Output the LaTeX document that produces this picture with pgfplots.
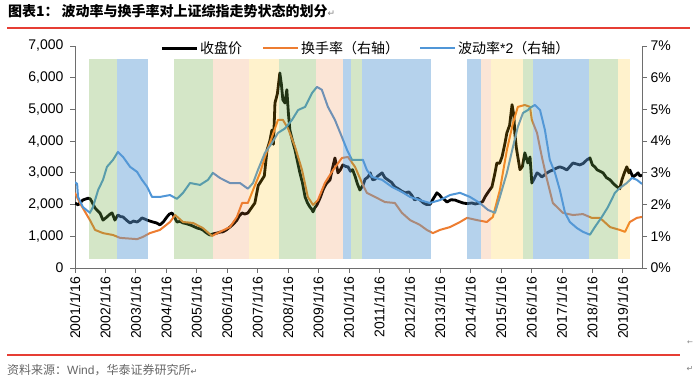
\documentclass[border=0pt]{standalone}
\usepackage{fontspec}
\setmainfont{Liberation Sans}
\newfontfamily\cjk{Noto Sans CJK SC}
\newfontfamily\dejavu{DejaVu Sans}
\usepackage{pgfplots}
\pgfplotsset{compat=1.18}
\definecolor{cBlack}{RGB}{0,0,0}
\definecolor{cOrange}{RGB}{237,125,49}
\definecolor{cBlue}{RGB}{80,150,215}
\definecolor{bGreen}{RGB}{112,173,71}
\definecolor{bBlue}{RGB}{91,155,213}
\definecolor{bPink}{RGB}{237,125,49}
\definecolor{bYellow}{RGB}{255,192,0}
\definecolor{redline}{RGB}{230,62,52}
\definecolor{axgray}{RGB}{110,110,110}
\begin{document}
\begin{tikzpicture}
\pgfplotsset{
  common/.style={
    at={(75pt,111pt)}, anchor=south west,
    width=567pt, height=222pt, scale only axis,
    xmin=0, xmax=18.63,
    tick align=outside, major tick length=5pt,
    tick style={color=axgray, line width=0.8pt},
    axis line style={-, color=axgray, line width=0.8pt},
    /pgf/number format/assume math mode=true,
    tick label style={font=\fontsize{14}{16}\selectfont},
    every axis plot/.append style={line join=round},
  }
}
\begin{axis}[common,
  ymin=0, ymax=7000,
  axis x line*=bottom, axis y line*=left,
  xtick={0,1,...,18},
  xticklabels={2001/1/16,2002/1/16,2003/1/16,2004/1/16,2005/1/16,2006/1/16,2007/1/16,2008/1/16,2009/1/16,2010/1/16,2011/1/16,2012/1/16,2013/1/16,2014/1/16,2015/1/16,2016/1/16,2017/1/16,2018/1/16,2019/1/16},
  x tick label style={rotate=90, anchor=east},
  ytick={0,1000,...,7000},
  y tick label style={xshift=-3pt},
  /pgf/number format/1000 sep={,},
]
\addplot[cBlack, line width=2.8pt] coordinates {
(0,2050) (0.10,1990) (0.26,2145) (0.43,2200) (0.50,2180) (0.56,2080) (0.66,1890) (0.75,1800)
(0.82,1735) (0.92,1510) (1.05,1610) (1.15,1700) (1.22,1735) (1.31,1510) (1.41,1670) (1.50,1620)
(1.58,1610) (1.70,1500) (1.81,1420) (1.92,1480) (2.04,1450) (2.12,1500) (2.20,1580) (2.30,1540)
(2.37,1510) (2.46,1480) (2.56,1450) (2.68,1420) (2.79,1360) (2.90,1450) (3.02,1610) (3.10,1700)
(3.19,1735) (3.27,1600) (3.35,1450) (3.45,1470) (3.55,1420) (3.65,1400) (3.78,1360) (3.90,1310)
(4.01,1260) (4.10,1240) (4.20,1200) (4.30,1120) (4.43,1040) (4.55,1080) (4.66,1100) (4.76,1130)
(4.86,1140) (4.97,1200) (5.09,1290) (5.20,1380) (5.32,1510) (5.40,1650) (5.49,1735) (5.58,1700)
(5.68,1735) (5.80,1900) (5.91,2050) (6.02,2600) (6.14,2780) (6.22,2900) (6.31,3720) (6.40,4000)
(6.47,4350) (6.52,3900) (6.57,5200) (6.65,5500) (6.73,6150) (6.78,5800) (6.83,5300) (6.90,5200)
(6.96,5620) (7.01,4900) (7.06,4350) (7.15,4000) (7.23,3720) (7.30,3400) (7.39,3000) (7.47,2700)
(7.56,2240) (7.64,2050) (7.72,1920) (7.78,1850) (7.82,1770) (7.88,1900) (7.95,1990) (8.05,2200)
(8.15,2460) (8.25,2650) (8.38,2780) (8.45,3100) (8.54,3470) (8.60,3200) (8.64,3000) (8.72,3100)
(8.80,3250) (8.90,3200) (8.97,3190) (9.05,3050) (9.12,3100) (9.20,2900) (9.28,2650) (9.36,2460)
(9.46,2600) (9.53,2800) (9.63,2870) (9.70,3000) (9.78,2780) (9.86,2800) (9.95,2900) (10.02,2950)
(10.09,3000) (10.18,2850) (10.28,2780) (10.40,2700) (10.51,2560) (10.62,2500) (10.74,2420) (10.85,2370)
(10.97,2400) (11.06,2300) (11.16,2145) (11.26,2200) (11.33,2150) (11.45,2050) (11.55,2000) (11.66,2000)
(11.75,2150) (11.89,2370) (11.98,2300) (12.06,2200) (12.15,2150) (12.22,2080) (12.35,2150) (12.48,2145)
(12.60,2100) (12.75,2050) (12.88,2030) (13.04,2050) (13.15,2020) (13.30,2050) (13.40,2100) (13.47,2240)
(13.58,2400) (13.70,2560) (13.80,3000) (13.86,3310) (13.95,3300) (14.03,3500) (14.12,3900) (14.19,4260)
(14.28,4500) (14.36,5150) (14.42,4800) (14.45,4260) (14.50,3800) (14.55,3500) (14.62,3100) (14.70,3200)
(14.78,3630) (14.88,3310) (14.95,3500) (15.01,2680) (15.08,2800) (15.18,3000) (15.26,2950) (15.34,2870)
(15.42,2930) (15.51,3000) (15.60,3050) (15.70,3090) (15.82,3150) (15.93,3190) (16.05,3150) (16.16,3090)
(16.26,3200) (16.36,3310) (16.48,3280) (16.59,3250) (16.70,3300) (16.82,3410) (16.92,3470) (17.00,3250)
(17.08,3190) (17.15,3100) (17.25,3050) (17.35,3000) (17.46,2850) (17.58,2780) (17.70,2650) (17.81,2560)
(17.90,2500) (17.97,2780) (18.05,3000) (18.13,3190) (18.20,3000) (18.23,3090) (18.33,2870) (18.42,2930)
(18.50,3000) (18.56,2900) (18.63,2930)
};
\end{axis}
\begin{axis}[common,
  ymin=0, ymax=7,
  axis x line=none, axis y line*=right,
  ytick={0,1,...,7},
  yticklabel={\pgfmathprintnumber{\tick}\%},
  legend style={at={(0.513,0.99)}, anchor=center, draw=none, fill=none,
    font=\cjk\fontsize{14}{16}\selectfont,
    /tikz/every even column/.append style={column sep=18pt}},
  legend columns=3,
  legend image code/.code={\draw[#1] (0pt,0pt) -- (35pt,0pt);},
]
\addlegendimage{cBlack, line width=2.8pt}
\addlegendentry{收盘价}
\addplot[cOrange, line width=2pt] coordinates {
(0,2.37) (0.16,2.05) (0.49,1.51) (0.66,1.2) (0.92,1.1) (1.25,1.04) (1.48,0.95) (2.04,0.91)
(2.23,0.98) (2.46,1.1) (2.79,1.2) (3.12,1.45) (3.29,1.67) (3.55,1.45) (3.88,1.42) (4.20,1.26)
(4.50,1.01) (4.76,1.14) (5.09,1.29) (5.32,1.61) (5.49,2.05) (5.68,2.05) (5.85,2.46) (6.08,3.0)
(6.24,3.5) (6.47,4.13) (6.67,4.67) (6.83,4.67) (7.00,4.4) (7.23,3.82) (7.46,3.09) (7.65,2.24)
(7.82,1.99) (7.98,2.14) (8.21,2.68) (8.48,3.09) (8.77,3.47) (8.97,3.5) (9.20,3.19) (9.43,2.68)
(9.59,2.37) (9.86,2.24) (10.18,2.08) (10.51,2.05) (10.74,1.74) (11.01,1.51) (11.33,1.36) (11.56,1.2)
(11.76,1.1) (11.99,1.2) (12.32,1.29) (12.65,1.45) (12.88,1.58) (13.21,1.51) (13.53,1.45) (13.73,1.61)
(13.96,2.46) (14.19,3.72) (14.39,4.57) (14.55,5.08) (14.78,5.14) (14.95,5.08) (15.01,4.67) (15.18,4.26)
(15.34,3.5) (15.51,2.78) (15.70,2.05) (16.03,1.74) (16.36,1.67) (16.69,1.7) (16.98,1.58) (17.25,1.58)
(17.58,1.29) (17.90,1.2) (18.07,1.14) (18.23,1.45) (18.46,1.58) (18.63,1.61)
};
\addlegendentry{换手率（右轴）}
\addplot[cBlue, line width=2pt] coordinates {
(0,2.71) (0.07,2.65) (0.10,2.24) (0.26,1.92) (0.49,1.74) (0.59,1.92) (0.76,2.46) (0.92,2.78)
(1.05,3.19) (1.25,3.41) (1.41,3.66) (1.58,3.5) (1.81,3.19) (2.04,3.03) (2.20,2.78) (2.37,2.56)
(2.53,2.24) (2.79,2.24) (3.12,2.3) (3.35,2.18) (3.55,2.37) (3.78,2.68) (4.11,2.62) (4.37,2.78)
(4.53,3.0) (4.76,2.84) (5.09,2.68) (5.42,2.68) (5.68,2.5) (5.85,2.68) (6.01,3.09) (6.24,3.63)
(6.47,3.94) (6.67,4.26) (6.90,4.4) (7.13,4.67) (7.33,4.98) (7.56,5.08) (7.79,5.52) (7.95,5.71)
(8.11,5.62) (8.31,5.08) (8.54,4.67) (8.77,4.13) (8.94,3.72) (9.10,3.41) (9.30,3.41) (9.46,3.41)
(9.59,3.09) (9.76,2.87) (10.09,2.78) (10.41,2.56) (10.74,2.4) (11.01,2.24) (11.33,2.14) (11.66,2.05)
(11.99,2.14) (12.32,2.3) (12.65,2.37) (12.98,2.24) (13.30,2.05) (13.57,1.83) (13.80,1.74) (13.96,2.24)
(14.19,3.0) (14.39,3.82) (14.55,4.45) (14.72,4.89) (14.88,4.98) (14.95,5.05) (15.11,5.14) (15.28,4.98)
(15.44,4.35) (15.60,3.41) (15.77,3.0) (15.93,2.46) (16.10,1.74) (16.26,1.45) (16.49,1.26) (16.69,1.14)
(16.92,1.05) (17.08,1.29) (17.31,1.61) (17.51,1.92) (17.74,2.37) (17.90,2.52) (18.13,2.68) (18.30,2.84)
(18.46,2.78) (18.63,2.65)
};
\addlegendentry{波动率{\rmfamily *2}（右轴）}
% state bands
\addplot[draw=none, fill=bGreen, fill opacity=0.3, forget plot] coordinates {(0.47,0.28) (1.37,0.28) (1.37,6.58) (0.47,6.58)} -- cycle;
\addplot[draw=none, fill=bBlue, fill opacity=0.45, forget plot] coordinates {(1.37,0.28) (2.40,0.28) (2.40,6.58) (1.37,6.58)} -- cycle;
\addplot[draw=none, fill=bGreen, fill opacity=0.3, forget plot] coordinates {(3.25,0.28) (4.53,0.28) (4.53,6.58) (3.25,6.58)} -- cycle;
\addplot[draw=none, fill=bPink, fill opacity=0.2, forget plot] coordinates {(4.53,0.28) (5.73,0.28) (5.73,6.58) (4.53,6.58)} -- cycle;
\addplot[draw=none, fill=bYellow, fill opacity=0.2, forget plot] coordinates {(5.73,0.28) (6.70,0.28) (6.70,6.58) (5.73,6.58)} -- cycle;
\addplot[draw=none, fill=bGreen, fill opacity=0.3, forget plot] coordinates {(6.70,0.28) (7.91,0.28) (7.91,6.58) (6.70,6.58)} -- cycle;
\addplot[draw=none, fill=bPink, fill opacity=0.2, forget plot] coordinates {(7.91,0.28) (8.79,0.28) (8.79,6.58) (7.91,6.58)} -- cycle;
\addplot[draw=none, fill=bBlue, fill opacity=0.45, forget plot] coordinates {(8.79,0.28) (9.06,0.28) (9.06,6.58) (8.79,6.58)} -- cycle;
\addplot[draw=none, fill=bGreen, fill opacity=0.3, forget plot] coordinates {(9.06,0.28) (9.44,0.28) (9.44,6.58) (9.06,6.58)} -- cycle;
\addplot[draw=none, fill=bBlue, fill opacity=0.45, forget plot] coordinates {(9.44,0.28) (11.69,0.28) (11.69,6.58) (9.44,6.58)} -- cycle;
\addplot[draw=none, fill=bBlue, fill opacity=0.45, forget plot] coordinates {(12.87,0.28) (13.34,0.28) (13.34,6.58) (12.87,6.58)} -- cycle;
\addplot[draw=none, fill=bPink, fill opacity=0.2, forget plot] coordinates {(13.34,0.28) (13.66,0.28) (13.66,6.58) (13.34,6.58)} -- cycle;
\addplot[draw=none, fill=bYellow, fill opacity=0.2, forget plot] coordinates {(13.66,0.28) (14.73,0.28) (14.73,6.58) (13.66,6.58)} -- cycle;
\addplot[draw=none, fill=bGreen, fill opacity=0.3, forget plot] coordinates {(14.73,0.28) (15.06,0.28) (15.06,6.58) (14.73,6.58)} -- cycle;
\addplot[draw=none, fill=bBlue, fill opacity=0.45, forget plot] coordinates {(15.06,0.28) (16.90,0.28) (16.90,6.58) (15.06,6.58)} -- cycle;
\addplot[draw=none, fill=bGreen, fill opacity=0.3, forget plot] coordinates {(16.90,0.28) (17.85,0.28) (17.85,6.58) (16.90,6.58)} -- cycle;
\addplot[draw=none, fill=bYellow, fill opacity=0.2, forget plot] coordinates {(17.85,0.28) (18.22,0.28) (18.22,6.58) (17.85,6.58)} -- cycle;
\end{axis}
% title and source
\node[anchor=west, inner sep=0pt] at (8pt,368pt) {\cjk\bfseries\fontsize{14}{16}\selectfont 图表1：\hspace{3pt}波动率与换手率对上证综指走势状态的划分{\dejavu\mdseries\fontsize{9}{10}\selectfont\color{gray}↵}};
\draw[redline, line width=1.5pt] (7pt,351pt) -- (690pt,351pt);
\draw[redline, line width=1.2pt] (7pt,24pt) -- (680pt,24pt);
\node[anchor=west, inner sep=0pt] at (7pt,9pt) {\cjk\fontsize{12}{14}\selectfont\color{black!60}资料来源：{\rmfamily Wind}，华泰证券研究所{\dejavu\fontsize{8}{9}\selectfont↵}};
\node[inner sep=0pt, text=gray] at (690pt,36pt) {\dejavu\fontsize{7}{8}\selectfont ←};
\node[inner sep=0pt, text=gray] at (690pt,10pt) {\dejavu\fontsize{8}{9}\selectfont ↵};
\pgfresetboundingbox
\path[use as bounding box] (0pt,0pt) rectangle (700pt,379pt);
\end{tikzpicture}
\end{document}
